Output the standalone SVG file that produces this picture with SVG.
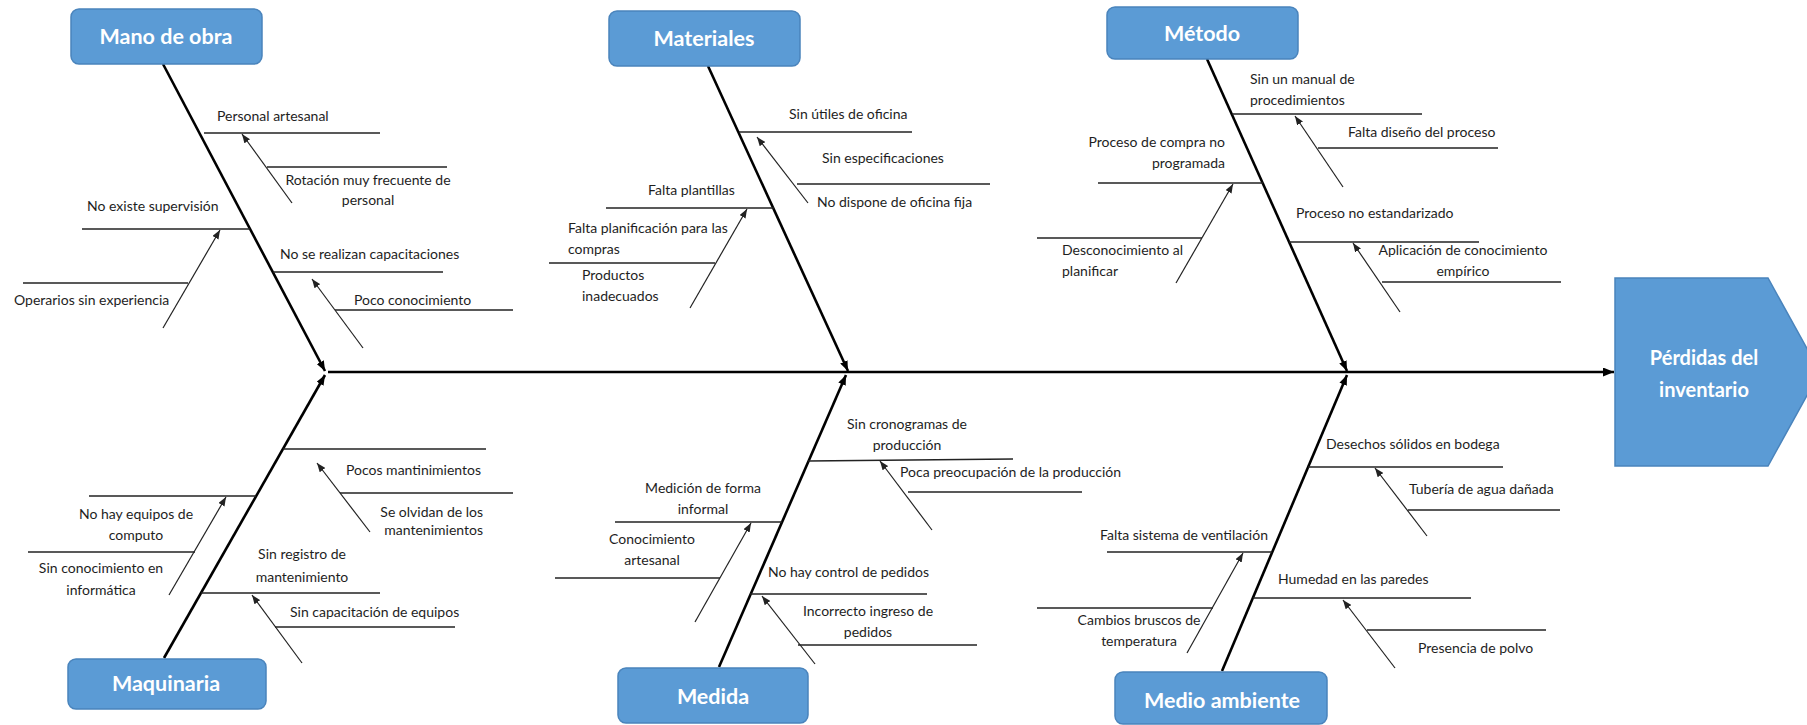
<svg xmlns="http://www.w3.org/2000/svg" width="1807" height="725" viewBox="0 0 1807 725">
  <style>
    .bg { fill: #ffffff; }
    .box { fill: #5B9BD5; stroke: #4A84BC; stroke-width: 1.5; }
    .h { font-family: Lato, "Open Sans", sans-serif; font-weight: 700; font-size: 21.5px; fill: #ffffff; text-anchor: middle; }
    .he { font-size: 20px; }
    .t { font-family: Lato, "Open Sans", sans-serif; font-size: 14px; fill: #1e1e1e; }
    .m { text-anchor: middle; }
    .e { text-anchor: end; }
    .bone { stroke: #000; stroke-width: 2.6; fill: none; marker-end: url(#ahb); }
    .spine { stroke: #000; stroke-width: 2.6; fill: none; marker-end: url(#ahm); }
    .br { stroke: #222; stroke-width: 1.3; fill: none; }
    .sub { stroke: #222; stroke-width: 1.2; fill: none; marker-end: url(#ahs); }
  </style>
  <defs>
    <marker id="ahb" viewBox="0 0 10 10" refX="10" refY="5" markerUnits="userSpaceOnUse" markerWidth="10" markerHeight="8" orient="auto" preserveAspectRatio="none">
      <path d="M0,0 L10,5 L0,10 z" fill="#000"/>
    </marker>
    <marker id="ahm" viewBox="0 0 10 10" refX="10" refY="5" markerUnits="userSpaceOnUse" markerWidth="11" markerHeight="9" orient="auto" preserveAspectRatio="none">
      <path d="M0,0 L10,5 L0,10 z" fill="#000"/>
    </marker>
    <marker id="ahs" viewBox="0 0 10 10" refX="10" refY="5" markerUnits="userSpaceOnUse" markerWidth="9" markerHeight="7" orient="auto" preserveAspectRatio="none">
      <path d="M0,0 L10,5 L0,10 z" fill="#222"/>
    </marker>
  </defs>
  <rect class="bg" x="0" y="0" width="1807" height="725"/>

  <!-- main spine and category bones -->
  <g id="connectors">
    <line class="spine" x1="328" y1="372" x2="1614" y2="372"/>
    <line class="bone" x1="163" y1="64" x2="325" y2="371"/>
    <line class="bone" x1="708" y1="66" x2="848" y2="371"/>
    <line class="bone" x1="1207" y1="59" x2="1347" y2="371"/>
    <line class="bone" x1="164" y1="658" x2="325" y2="375"/>
    <line class="bone" x1="719" y1="667" x2="846" y2="375"/>
    <line class="bone" x1="1222" y1="671" x2="1347" y2="375"/>
  </g>

  <!-- effect -->
  <g id="efecto">
    <polygon class="box" points="1615,278 1768,278 1820,372 1768,466 1615,466"/>
    <text class="h he" x="1704" y="365">Pérdidas del</text>
    <text class="h he" x="1704" y="397">inventario</text>
  </g>

  <!-- Mano de obra -->
  <g id="mano-de-obra">
    <rect class="box" x="71" y="9" width="191" height="55" rx="8"/>
    <text class="h" x="166" y="44">Mano de obra</text>
    <line class="br" x1="204" y1="133" x2="380" y2="133"/>
    <text class="t" x="217" y="121">Personal artesanal</text>
    <line class="br" x1="267" y1="167" x2="447" y2="167"/>
    <text class="t m" x="368" y="185">Rotación muy frecuente de</text>
    <text class="t m" x="368" y="205">personal</text>
    <line class="sub" x1="292" y1="203" x2="242" y2="134"/>
    <line class="br" x1="82" y1="229" x2="250" y2="229"/>
    <text class="t" x="87" y="211">No existe supervisión</text>
    <line class="br" x1="23" y1="283" x2="188" y2="283"/>
    <text class="t" x="14" y="305">Operarios sin experiencia</text>
    <line class="sub" x1="163" y1="328" x2="220" y2="230"/>
    <line class="br" x1="273" y1="272" x2="443" y2="272"/>
    <text class="t" x="280" y="259">No se realizan capacitaciones</text>
    <line class="br" x1="335" y1="310" x2="513" y2="310"/>
    <text class="t" x="354" y="305">Poco conocimiento</text>
    <line class="sub" x1="363" y1="348" x2="312" y2="279"/>
  </g>

  <!-- Materiales -->
  <g id="materiales">
    <rect class="box" x="609" y="11" width="191" height="55" rx="8"/>
    <text class="h" x="704" y="46">Materiales</text>
    <line class="br" x1="739" y1="132" x2="912" y2="132"/>
    <text class="t" x="789" y="119">Sin útiles de oficina</text>
    <line class="br" x1="797" y1="184" x2="990" y2="184"/>
    <text class="t" x="822" y="163">Sin especificaciones</text>
    <text class="t" x="817" y="207">No dispone de oficina fija</text>
    <line class="sub" x1="808" y1="203" x2="757" y2="137"/>
    <line class="br" x1="606" y1="208" x2="774" y2="208"/>
    <text class="t" x="648" y="195">Falta plantillas</text>
    <line class="br" x1="549" y1="263" x2="715" y2="263"/>
    <text class="t" x="568" y="233">Falta planificación para las</text>
    <text class="t" x="568" y="254">compras</text>
    <text class="t" x="582" y="280">Productos</text>
    <text class="t" x="582" y="301">inadecuados</text>
    <line class="sub" x1="690" y1="308" x2="747" y2="209"/>
  </g>

  <!-- Método -->
  <g id="metodo">
    <rect class="box" x="1107" y="7" width="191" height="52" rx="8"/>
    <text class="h" x="1202" y="41">Método</text>
    <line class="br" x1="1232" y1="114" x2="1422" y2="114"/>
    <text class="t" x="1250" y="84">Sin un manual de</text>
    <text class="t" x="1250" y="105">procedimientos</text>
    <line class="br" x1="1318" y1="148" x2="1498" y2="148"/>
    <text class="t" x="1348" y="137">Falta diseño del proceso</text>
    <line class="sub" x1="1343" y1="187" x2="1295" y2="116"/>
    <line class="br" x1="1098" y1="183" x2="1263" y2="183"/>
    <text class="t e" x="1225" y="147">Proceso de compra no</text>
    <text class="t e" x="1225" y="168">programada</text>
    <line class="br" x1="1037" y1="238" x2="1202" y2="238"/>
    <text class="t" x="1062" y="255">Desconocimiento al</text>
    <text class="t" x="1062" y="276">planificar</text>
    <line class="sub" x1="1176" y1="283" x2="1233" y2="184"/>
    <line class="br" x1="1289" y1="242" x2="1479" y2="242"/>
    <text class="t" x="1296" y="218">Proceso no estandarizado</text>
    <line class="br" x1="1382" y1="282" x2="1561" y2="282"/>
    <text class="t m" x="1463" y="255">Aplicación de conocimiento</text>
    <text class="t m" x="1463" y="276">empírico</text>
    <line class="sub" x1="1400" y1="312" x2="1353" y2="243"/>
  </g>

  <!-- Maquinaria -->
  <g id="maquinaria">
    <rect class="box" x="68" y="659" width="198" height="50" rx="8"/>
    <text class="h" x="166" y="691">Maquinaria</text>
    <line class="br" x1="283" y1="449" x2="486" y2="449"/>
    <text class="t" x="346" y="475">Pocos mantinimientos</text>
    <line class="br" x1="340" y1="493" x2="513" y2="493"/>
    <text class="t e" x="483" y="517">Se olvidan de los</text>
    <text class="t e" x="483" y="535">mantenimientos</text>
    <line class="sub" x1="370" y1="532" x2="317" y2="463"/>
    <line class="br" x1="89" y1="496" x2="256" y2="496"/>
    <text class="t m" x="136" y="519">No hay equipos de</text>
    <text class="t m" x="136" y="540">computo</text>
    <line class="br" x1="28" y1="552" x2="195" y2="552"/>
    <text class="t m" x="101" y="573">Sin conocimiento en</text>
    <text class="t m" x="101" y="595">informática</text>
    <line class="sub" x1="169" y1="595" x2="226" y2="497"/>
    <line class="br" x1="201" y1="593" x2="380" y2="593"/>
    <text class="t m" x="302" y="559">Sin registro de</text>
    <text class="t m" x="302" y="582">mantenimiento</text>
    <line class="br" x1="275" y1="627" x2="455" y2="627"/>
    <text class="t" x="290" y="617">Sin capacitación de equipos</text>
    <line class="sub" x1="302" y1="663" x2="252" y2="595"/>
  </g>

  <!-- Medida -->
  <g id="medida">
    <rect class="box" x="618" y="668" width="190" height="55" rx="8"/>
    <text class="h" x="713" y="704">Medida</text>
    <line class="br" x1="808" y1="461" x2="1013" y2="459"/>
    <text class="t m" x="907" y="429">Sin cronogramas de</text>
    <text class="t m" x="907" y="450">producción</text>
    <line class="br" x1="908" y1="492" x2="1082" y2="492"/>
    <text class="t" x="900" y="477">Poca preocupación de la producción</text>
    <line class="sub" x1="932" y1="530" x2="880" y2="461"/>
    <line class="br" x1="615" y1="522" x2="782" y2="522"/>
    <text class="t m" x="703" y="493">Medición de forma</text>
    <text class="t m" x="703" y="514">informal</text>
    <line class="br" x1="555" y1="578" x2="720" y2="578"/>
    <text class="t m" x="652" y="544">Conocimiento</text>
    <text class="t m" x="652" y="565">artesanal</text>
    <line class="sub" x1="695" y1="622" x2="751" y2="523"/>
    <line class="br" x1="750" y1="594" x2="927" y2="594"/>
    <text class="t" x="768" y="577">No hay control de pedidos</text>
    <line class="br" x1="798" y1="645" x2="977" y2="645"/>
    <text class="t m" x="868" y="616">Incorrecto ingreso de</text>
    <text class="t m" x="868" y="637">pedidos</text>
    <line class="sub" x1="815" y1="664" x2="762" y2="596"/>
  </g>

  <!-- Medio ambiente -->
  <g id="medio-ambiente">
    <rect class="box" x="1115" y="672" width="212" height="52" rx="8"/>
    <text class="h" x="1222" y="708">Medio ambiente</text>
    <line class="br" x1="1308" y1="467" x2="1503" y2="467"/>
    <text class="t" x="1326" y="449">Desechos sólidos en bodega</text>
    <line class="br" x1="1408" y1="510" x2="1560" y2="510"/>
    <text class="t" x="1409" y="494">Tubería de agua dañada</text>
    <line class="sub" x1="1427" y1="536" x2="1375" y2="468"/>
    <line class="br" x1="1107" y1="552" x2="1272" y2="552"/>
    <text class="t" x="1100" y="540">Falta sistema de ventilación</text>
    <line class="br" x1="1037" y1="608" x2="1213" y2="608"/>
    <text class="t m" x="1139" y="625">Cambios bruscos de</text>
    <text class="t m" x="1139" y="646">temperatura</text>
    <line class="sub" x1="1187" y1="653" x2="1243" y2="553"/>
    <line class="br" x1="1253" y1="598" x2="1471" y2="598"/>
    <text class="t" x="1278" y="584">Humedad en las paredes</text>
    <line class="br" x1="1367" y1="630" x2="1546" y2="630"/>
    <text class="t" x="1418" y="653">Presencia de polvo</text>
    <line class="sub" x1="1395" y1="668" x2="1343" y2="600"/>
  </g>
</svg>
